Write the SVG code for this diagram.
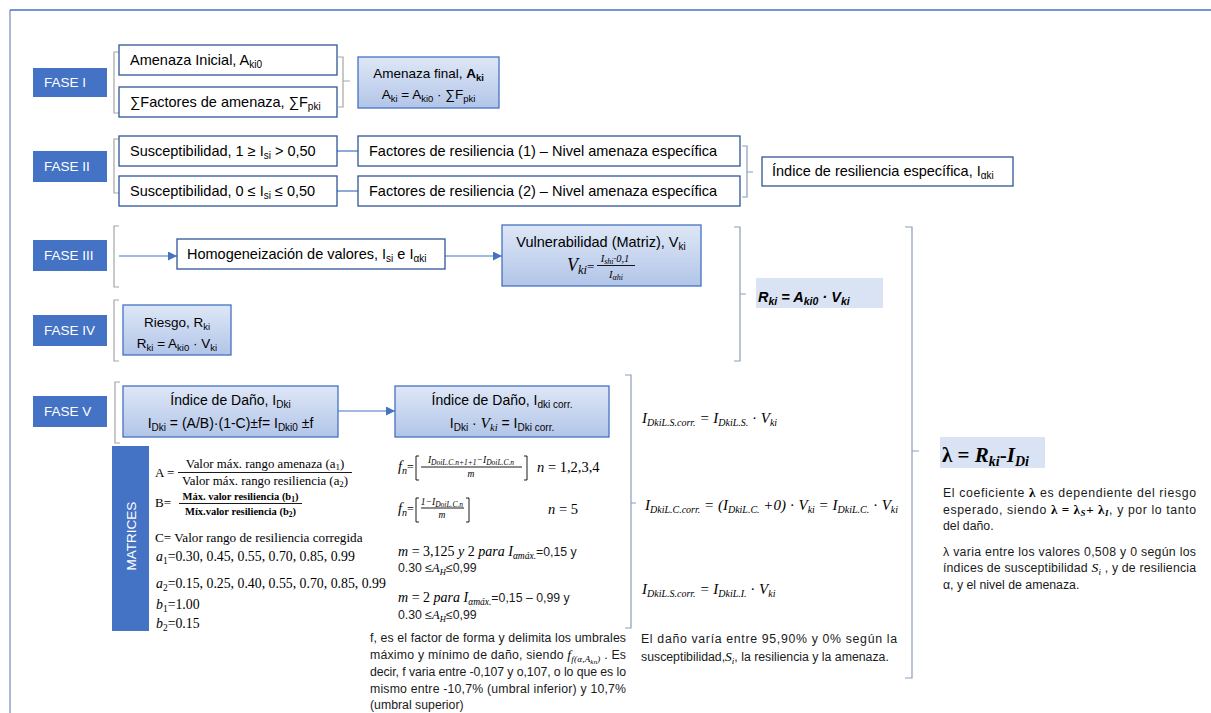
<svg xmlns="http://www.w3.org/2000/svg" width="1211" height="713" viewBox="0 0 1211 713">
<defs>
<linearGradient id="gbf" x1="0" y1="0" x2="0" y2="1"><stop offset="0" stop-color="#DEE7F6"/><stop offset="1" stop-color="#B2C5E8"/></linearGradient>
<marker id="ah" viewBox="0 0 10 10" refX="10" refY="5" markerWidth="9" markerHeight="9" markerUnits="userSpaceOnUse" orient="auto"><path d="M0,0 L10,5 L0,10 z" fill="#4472C4"/></marker>
<style>
.fase{fill:#4472C4}
.ft{fill:#fff;font-family:"Liberation Sans",Arial,sans-serif;font-size:13.5px}
.wb{fill:#fff;stroke:#2F5597;stroke-width:1.3}
.gb{fill:url(#gbf);stroke:#4472C4;stroke-width:1.3}
.t{font-family:"Liberation Sans",Arial,sans-serif;font-size:14.5px;fill:#000}
.t2{font-family:"Liberation Sans",Arial,sans-serif;font-size:13.5px;fill:#000}
.t3{font-family:"Liberation Sans",Arial,sans-serif;font-size:14px;fill:#000}
.s{font-size:10px}
.s2{font-size:10px}
.br{fill:none;stroke:#A5A5A5;stroke-width:1.2}
.bb{fill:none;stroke:#8C9DBC;stroke-width:1.2}
.ln{fill:none;stroke:#4472C4;stroke-width:1.2}
.k{fill:none;stroke:#000;stroke-width:0.9}
.m{font-family:"Liberation Serif","Times New Roman",serif;font-style:italic;fill:#000}
.sf{font-family:"Liberation Serif","Times New Roman",serif;fill:#000}
.p{font-family:"Liberation Sans",Arial,sans-serif;font-size:12.3px;fill:#1a1a1a}
.hl{fill:#DAE3F3}
</style>
</defs>

<g id="frame">
<path d="M10,713 V10" fill="none" stroke="#7D93C3" stroke-width="1.3"/>
<path d="M10,10 H1211" fill="none" stroke="#4472C4" stroke-width="1.5"/>
</g>

<g id="brackets">
<path class="br" d="M119,52 H114 V113 H119"/>
<path class="br" d="M338,57 H343 V107 H338 M343,81 H350"/>
<path class="br" d="M119,139 H114 V193 H119"/>
<path class="bb" d="M742,146 H747 V197 H742 M747,172 H753"/>
<path class="br" d="M119,226 H114 V287 H119"/>
<path class="br" d="M119,300 H114 V361 H119"/>
<path class="bb" d="M734,227 H740 V361 H734 M740,294 H746"/>
<path class="bb" d="M905,227 H912 V678 H905 M912,451 H919"/>
<path class="br" d="M120,382 H115 V443 H120"/>
<path class="bb" d="M625,375 H631 V628 H625 M631,503 H636"/>
</g>

<g id="connectors">
<path class="ln" d="M337,151 H358"/>
<path class="ln" d="M337,191 H358"/>
<path class="ln" d="M119,256 H177" marker-end="url(#ah)"/>
<path class="ln" d="M445,256 H502" marker-end="url(#ah)"/>
<path class="ln" d="M338,411 H395" marker-end="url(#ah)"/>
</g>

<g id="fase1"><rect class="fase" x="33" y="68" width="74" height="29"/><text class="ft" x="44" y="87">FASE I</text></g>
<g id="fase2"><rect class="fase" x="33" y="151" width="74" height="31"/><text class="ft" x="44" y="171">FASE II</text></g>
<g id="fase3"><rect class="fase" x="33" y="240" width="74" height="31"/><text class="ft" x="44" y="260">FASE III</text></g>
<g id="fase4"><rect class="fase" x="33" y="315" width="74" height="31"/><text class="ft" x="44" y="335">FASE IV</text></g>
<g id="fase5"><rect class="fase" x="33" y="396" width="74" height="31"/><text class="ft" x="44" y="416">FASE V</text></g>

<g id="amenaza-inicial"><rect class="wb" x="119" y="45" width="218" height="30"/>
<text class="t" x="130" y="65">Amenaza Inicial, A<tspan class="s" dy="3">ki0</tspan></text></g>
<g id="factores-amenaza"><rect class="wb" x="119" y="87" width="218" height="30"/>
<text class="t" x="130" y="107">∑Factores de amenaza, ∑F<tspan class="s" dy="3">pki</tspan></text></g>
<g id="amenaza-final"><rect class="gb" x="358" y="57" width="141" height="51"/>
<text class="t2" x="428.5" y="78" text-anchor="middle">Amenaza final, <tspan font-weight="bold">A</tspan><tspan font-size="9.5" font-weight="bold" dy="3">ki</tspan></text>
<text class="t2" x="428.5" y="99" text-anchor="middle">A<tspan font-size="9.5" dy="3">ki</tspan><tspan dy="-3"> = A</tspan><tspan font-size="9.5" dy="3">ki0</tspan><tspan dy="-3"> · ∑F</tspan><tspan font-size="9.5" dy="3">pki</tspan></text></g>

<g id="susc1"><rect class="wb" x="119" y="136" width="218" height="30"/>
<text class="t" x="130" y="156">Susceptibilidad, 1 ≥ I<tspan class="s" dy="3">si</tspan><tspan dy="-3">  &gt; 0,50</tspan></text></g>
<g id="susc2"><rect class="wb" x="119" y="176" width="218" height="30"/>
<text class="t" x="130" y="196">Susceptibilidad, 0 ≤ I<tspan class="s" dy="3">si</tspan><tspan dy="-3"> ≤ 0,50</tspan></text></g>
<g id="fres1"><rect class="wb" x="358" y="136" width="382" height="30"/>
<text class="t" x="369" y="156">Factores de resiliencia (1) – Nivel amenaza específica</text></g>
<g id="fres2"><rect class="wb" x="358" y="176" width="382" height="30"/>
<text class="t" x="369" y="196">Factores de resiliencia (2) – Nivel amenaza específica</text></g>
<g id="indice-res"><rect class="wb" x="762" y="157" width="251" height="29"/>
<text class="t" x="772" y="176">Índice de resiliencia específica, I<tspan class="s" dy="3">αki</tspan></text></g>

<g id="homog"><rect class="wb" x="177" y="239" width="268" height="30"/>
<text class="t" x="187" y="259">Homogeneización de valores, I<tspan class="s" dy="3">si</tspan><tspan dy="-3">  e I</tspan><tspan class="s" dy="3">αki</tspan></text></g>
<g id="vulnerabilidad"><rect class="gb" x="502" y="225" width="199" height="61"/>
<text class="t" x="601" y="247" text-anchor="middle">Vulnerabilidad (Matriz), V<tspan class="s" dy="3">ki</tspan></text>
<text class="m" font-size="18" x="567" y="271">V<tspan font-size="12.5" dy="3">ki</tspan><tspan class="sf" font-style="normal" font-size="13" dy="-3">=</tspan></text>
<text class="m" font-size="10.5" x="615" y="262" text-anchor="middle">I<tspan font-size="8" dy="2">shi</tspan><tspan dy="-2">·0,1</tspan></text>
<path class="k" d="M597,265.5 H635"/>
<text class="m" font-size="10.5" x="616" y="278" text-anchor="middle">I<tspan font-size="8" dy="2">αhi</tspan></text></g>

<g id="riesgo"><rect class="gb" x="123" y="305" width="108" height="50"/>
<text class="t2" x="177" y="327" text-anchor="middle">Riesgo, R<tspan font-size="9.5" dy="3">ki</tspan></text>
<text class="t2" x="177" y="348" text-anchor="middle">R<tspan font-size="9.5" dy="3">ki</tspan><tspan dy="-3"> = A</tspan><tspan font-size="9.5" dy="3">ki0</tspan><tspan dy="-3"> · V</tspan><tspan font-size="9.5" dy="3">ki</tspan></text></g>

<g id="rki-formula"><rect class="hl" x="756" y="278" width="127" height="30"/>
<text class="t" font-size="16" font-weight="bold" font-style="italic" x="758" y="302">R<tspan font-size="10.5" dy="3">ki</tspan><tspan dy="-3"> = A</tspan><tspan font-size="10.5" dy="3">ki0</tspan><tspan dy="-3"> · V</tspan><tspan font-size="10.5" dy="3">ki</tspan></text></g>

<g id="indice-dano"><rect class="gb" x="123" y="386" width="215" height="51"/>
<text class="t3" x="230.5" y="405" text-anchor="middle">Índice de Daño, I<tspan class="s" dy="3">Dki</tspan></text>
<text class="t3" x="230.5" y="428" text-anchor="middle">I<tspan class="s" dy="3">Dki</tspan><tspan dy="-3"> = (A/B)·(1-C)±f= I</tspan><tspan class="s" dy="3">Dki0</tspan><tspan dy="-3"> ±f</tspan></text></g>
<g id="indice-dano-corr"><rect class="gb" x="395" y="386" width="214" height="51"/>
<text class="t3" x="502" y="405" text-anchor="middle">Índice de Daño, I<tspan class="s" dy="3">dki corr.</tspan></text>
<text class="t3" x="502" y="428" text-anchor="middle">I<tspan class="s" dy="3">Dki</tspan><tspan dy="-3">  ·  </tspan><tspan class="m" font-size="15.5">V</tspan><tspan class="m" font-size="10.5" dy="3">ki</tspan><tspan dy="-3"> = I</tspan><tspan class="s" dy="3">Dki corr.</tspan></text></g>

<g id="matrices"><rect class="fase" x="112" y="446" width="37" height="185"/>
<text class="ft" font-size="13" x="0" y="0" text-anchor="middle" transform="translate(135.5,536) rotate(-90)">MATRICES</text></g>

<g id="matrices-text">
<text class="sf" font-size="13" x="155" y="477">A =</text>
<text class="sf" font-size="12.8" x="265" y="468" text-anchor="middle">Valor máx. rango amenaza (a<tspan font-size="9" dy="2">1</tspan><tspan dy="-2">)</tspan></text>
<path class="k" d="M178,472.5 H352"/>
<text class="sf" font-size="12.8" x="265" y="485" text-anchor="middle">Valor máx. rango resiliencia (a<tspan font-size="9" dy="2">2</tspan><tspan dy="-2">)</tspan></text>
<text class="sf" font-size="13" x="155" y="507">B=</text>
<text class="sf" font-size="10.5" font-weight="bold" x="240.5" y="500" text-anchor="middle">Máx. valor resiliencia (b<tspan font-size="7.5" dy="1.5">1</tspan><tspan dy="-1.5">)</tspan></text>
<path class="k" d="M179,503.5 H302"/>
<text class="sf" font-size="10.5" font-weight="bold" x="240.5" y="515" text-anchor="middle">Míx.valor resiliencia (b<tspan font-size="7.5" dy="1.5">2</tspan><tspan dy="-1.5">)</tspan></text>
<text class="sf" font-size="13.2" x="155" y="542">C= Valor rango de resiliencia corregida</text>
<text class="sf" font-size="13.8" x="156" y="561"><tspan font-style="italic">a</tspan><tspan font-size="9.5" dy="3">1</tspan><tspan dy="-3">=0.30, 0.45, 0.55, 0.70, 0.85, 0.99</tspan></text>
<text class="sf" font-size="13.8" x="156" y="588"><tspan font-style="italic">a</tspan><tspan font-size="9.5" dy="3">2</tspan><tspan dy="-3">=0.15, 0.25, 0.40, 0.55, 0.70, 0.85, 0.99</tspan></text>
<text class="sf" font-size="13.8" x="156" y="609"><tspan font-style="italic">b</tspan><tspan font-size="9.5" dy="3">1</tspan><tspan dy="-3">=1.00</tspan></text>
<text class="sf" font-size="13.8" x="156" y="628"><tspan font-style="italic">b</tspan><tspan font-size="9.5" dy="3">2</tspan><tspan dy="-3">=0.15</tspan></text>
</g>

<g id="f-formulas">
<text class="m" font-size="14.5" x="398" y="471">f<tspan font-size="10" dy="3">n</tspan><tspan class="sf" font-style="normal" font-size="12" dy="-3">=</tspan></text>
<path class="k" d="M419,456 H416 V480 H419"/>
<text class="m" font-size="9.5" x="471" y="463" text-anchor="middle">I<tspan font-size="7.5" dy="1.5">DoiL.C.n+1+1</tspan><tspan dy="-1.5">−I</tspan><tspan font-size="7.5" dy="1.5">DoiL.C.n</tspan></text>
<path class="k" d="M421,467 H522"/>
<text class="m" font-size="9.5" x="471" y="477" text-anchor="middle">m</text>
<path class="k" d="M524,456 H527 V480 H524"/>
<text class="sf" font-size="14.5" x="537" y="472"><tspan font-style="italic">n</tspan> = 1,2,3,4</text>

<text class="m" font-size="14.5" x="398" y="513">f<tspan font-size="10" dy="3">n</tspan><tspan class="sf" font-style="normal" font-size="12" dy="-3">=</tspan></text>
<path class="k" d="M419,498 H416 V522 H419"/>
<text class="m" font-size="9.5" x="442" y="505" text-anchor="middle">1−I<tspan font-size="7.5" dy="1.5">DoiL.C.n</tspan></text>
<path class="k" d="M421,508 H464"/>
<text class="m" font-size="9.5" x="442" y="518" text-anchor="middle">m</text>
<path class="k" d="M466,498 H469 V522 H466"/>
<text class="sf" font-size="14.5" x="548" y="514"><tspan font-style="italic">n</tspan> = 5</text>

<text class="sf" font-size="14" x="398" y="556"><tspan font-style="italic">m</tspan> = 3,125  <tspan font-style="italic">y</tspan> 2 <tspan font-style="italic">para I</tspan><tspan font-style="italic" font-size="9.5" dy="3">αmáx.</tspan><tspan class="p" dy="-3">=0,15 y</tspan></text>
<text class="p" x="398" y="572">0.30 ≤<tspan class="m" font-size="12.5">A</tspan><tspan class="m" font-size="8.5" dy="3">H</tspan><tspan dy="-3">≤0,99</tspan></text>
<text class="sf" font-size="14" x="398" y="602"><tspan font-style="italic">m</tspan> = 2 <tspan font-style="italic">para I</tspan><tspan font-style="italic" font-size="9.5" dy="3">αmáx.</tspan><tspan class="p" dy="-3">=0,15 – 0,99 y</tspan></text>
<text class="p" x="398" y="619">0.30 ≤<tspan class="m" font-size="12.5">A</tspan><tspan class="m" font-size="8.5" dy="3">H</tspan><tspan dy="-3">≤0,99</tspan></text>
</g>

<g id="f-text">
<text class="p" x="370" y="642" textLength="256" lengthAdjust="spacing">f, es el factor de forma y delimita los umbrales</text>
<text class="p" x="370" y="659" textLength="256" lengthAdjust="spacing">máximo y mínimo de daño, siendo <tspan class="m" font-size="13.5">f</tspan><tspan class="m" font-size="9" dy="3">f(α,A</tspan><tspan class="m" font-size="7" dy="2">kn</tspan><tspan class="m" font-size="9" dy="-2">)</tspan><tspan dy="-3"> . Es</tspan></text>
<text class="p" x="370" y="676" textLength="256" lengthAdjust="spacing">decir, f varia entre -0,107 y o,107, o lo que es lo</text>
<text class="p" x="370" y="693" textLength="256" lengthAdjust="spacing">mismo entre -10,7% (umbral inferior) y 10,7%</text>
<text class="p" x="370" y="709">(umbral superior)</text>
</g>

<g id="corr-formulas">
<text class="m" font-size="15" x="642" y="423">I<tspan class="s2" dy="3">DkiL.S.corr.</tspan><tspan dy="-3"> = I</tspan><tspan class="s2" dy="3">DkiL.S.</tspan><tspan dy="-3" font-style="normal">  · </tspan><tspan>V</tspan><tspan class="s2" dy="3">ki</tspan></text>
<text class="m" font-size="15" x="645" y="510">I<tspan class="s2" dy="3">DkiL.C.corr.</tspan><tspan dy="-3"> = (I</tspan><tspan class="s2" dy="3">DkiL.C.</tspan><tspan dy="-3"> +0)</tspan><tspan font-style="normal">  · </tspan><tspan>V</tspan><tspan class="s2" dy="3">ki</tspan><tspan dy="-3"> = I</tspan><tspan class="s2" dy="3">DkiL.C.</tspan><tspan dy="-3" font-style="normal"> · </tspan><tspan>V</tspan><tspan class="s2" dy="3">ki</tspan></text>
<text class="m" font-size="15" x="642" y="594">I<tspan class="s2" dy="3">DkiL.S.corr.</tspan><tspan dy="-3"> = I</tspan><tspan class="s2" dy="3">DkiL.I.</tspan><tspan dy="-3" font-style="normal">  · </tspan><tspan>V</tspan><tspan class="s2" dy="3">ki</tspan></text>
<text class="p" x="641" y="643" textLength="256" lengthAdjust="spacing">El daño varía entre 95,90% y 0% según la</text>
<text class="p" x="641" y="661">susceptibilidad,<tspan class="m" font-size="13.5">S</tspan><tspan class="m" font-size="9" dy="3">i</tspan><tspan dy="-3">, la resiliencia y la amenaza.</tspan></text>
</g>

<g id="lambda">
<rect class="hl" x="940" y="437" width="105" height="31"/>
<text class="sf" font-size="21" font-weight="bold" x="942" y="462">λ = <tspan font-style="italic">R</tspan><tspan font-style="italic" font-size="14" dy="4">ki</tspan><tspan dy="-4">-</tspan><tspan font-style="italic">I</tspan><tspan font-style="italic" font-size="14" dy="4">Di</tspan></text>
<text class="p" x="943" y="497" textLength="253" lengthAdjust="spacing">El coeficiente <tspan class="sf" font-weight="bold" font-size="13">λ</tspan> es dependiente del riesgo</text>
<text class="p" x="943" y="514" textLength="253" lengthAdjust="spacing">esperado, siendo <tspan class="sf" font-weight="bold" font-size="13">λ = λ</tspan><tspan class="sf" font-weight="bold" font-style="italic" font-size="9" dy="2">S</tspan><tspan class="sf" font-weight="bold" font-size="13" dy="-2">+ λ</tspan><tspan class="sf" font-weight="bold" font-style="italic" font-size="9" dy="2">I</tspan><tspan dy="-2">, y por lo tanto</tspan></text>
<text class="p" x="943" y="530">del daño.</text>
<text class="p" x="943" y="556" textLength="253" lengthAdjust="spacing">λ varia entre los valores 0,508 y 0 según los</text>
<text class="p" x="943" y="572" textLength="253" lengthAdjust="spacing">índices de  susceptibilidad <tspan class="m" font-size="13.5">S</tspan><tspan class="m" font-size="9" dy="3">i</tspan><tspan dy="-3"> , y de resiliencia</tspan></text>
<text class="p" x="943" y="589">α, y el nivel de amenaza.</text>
</g>
</svg>
